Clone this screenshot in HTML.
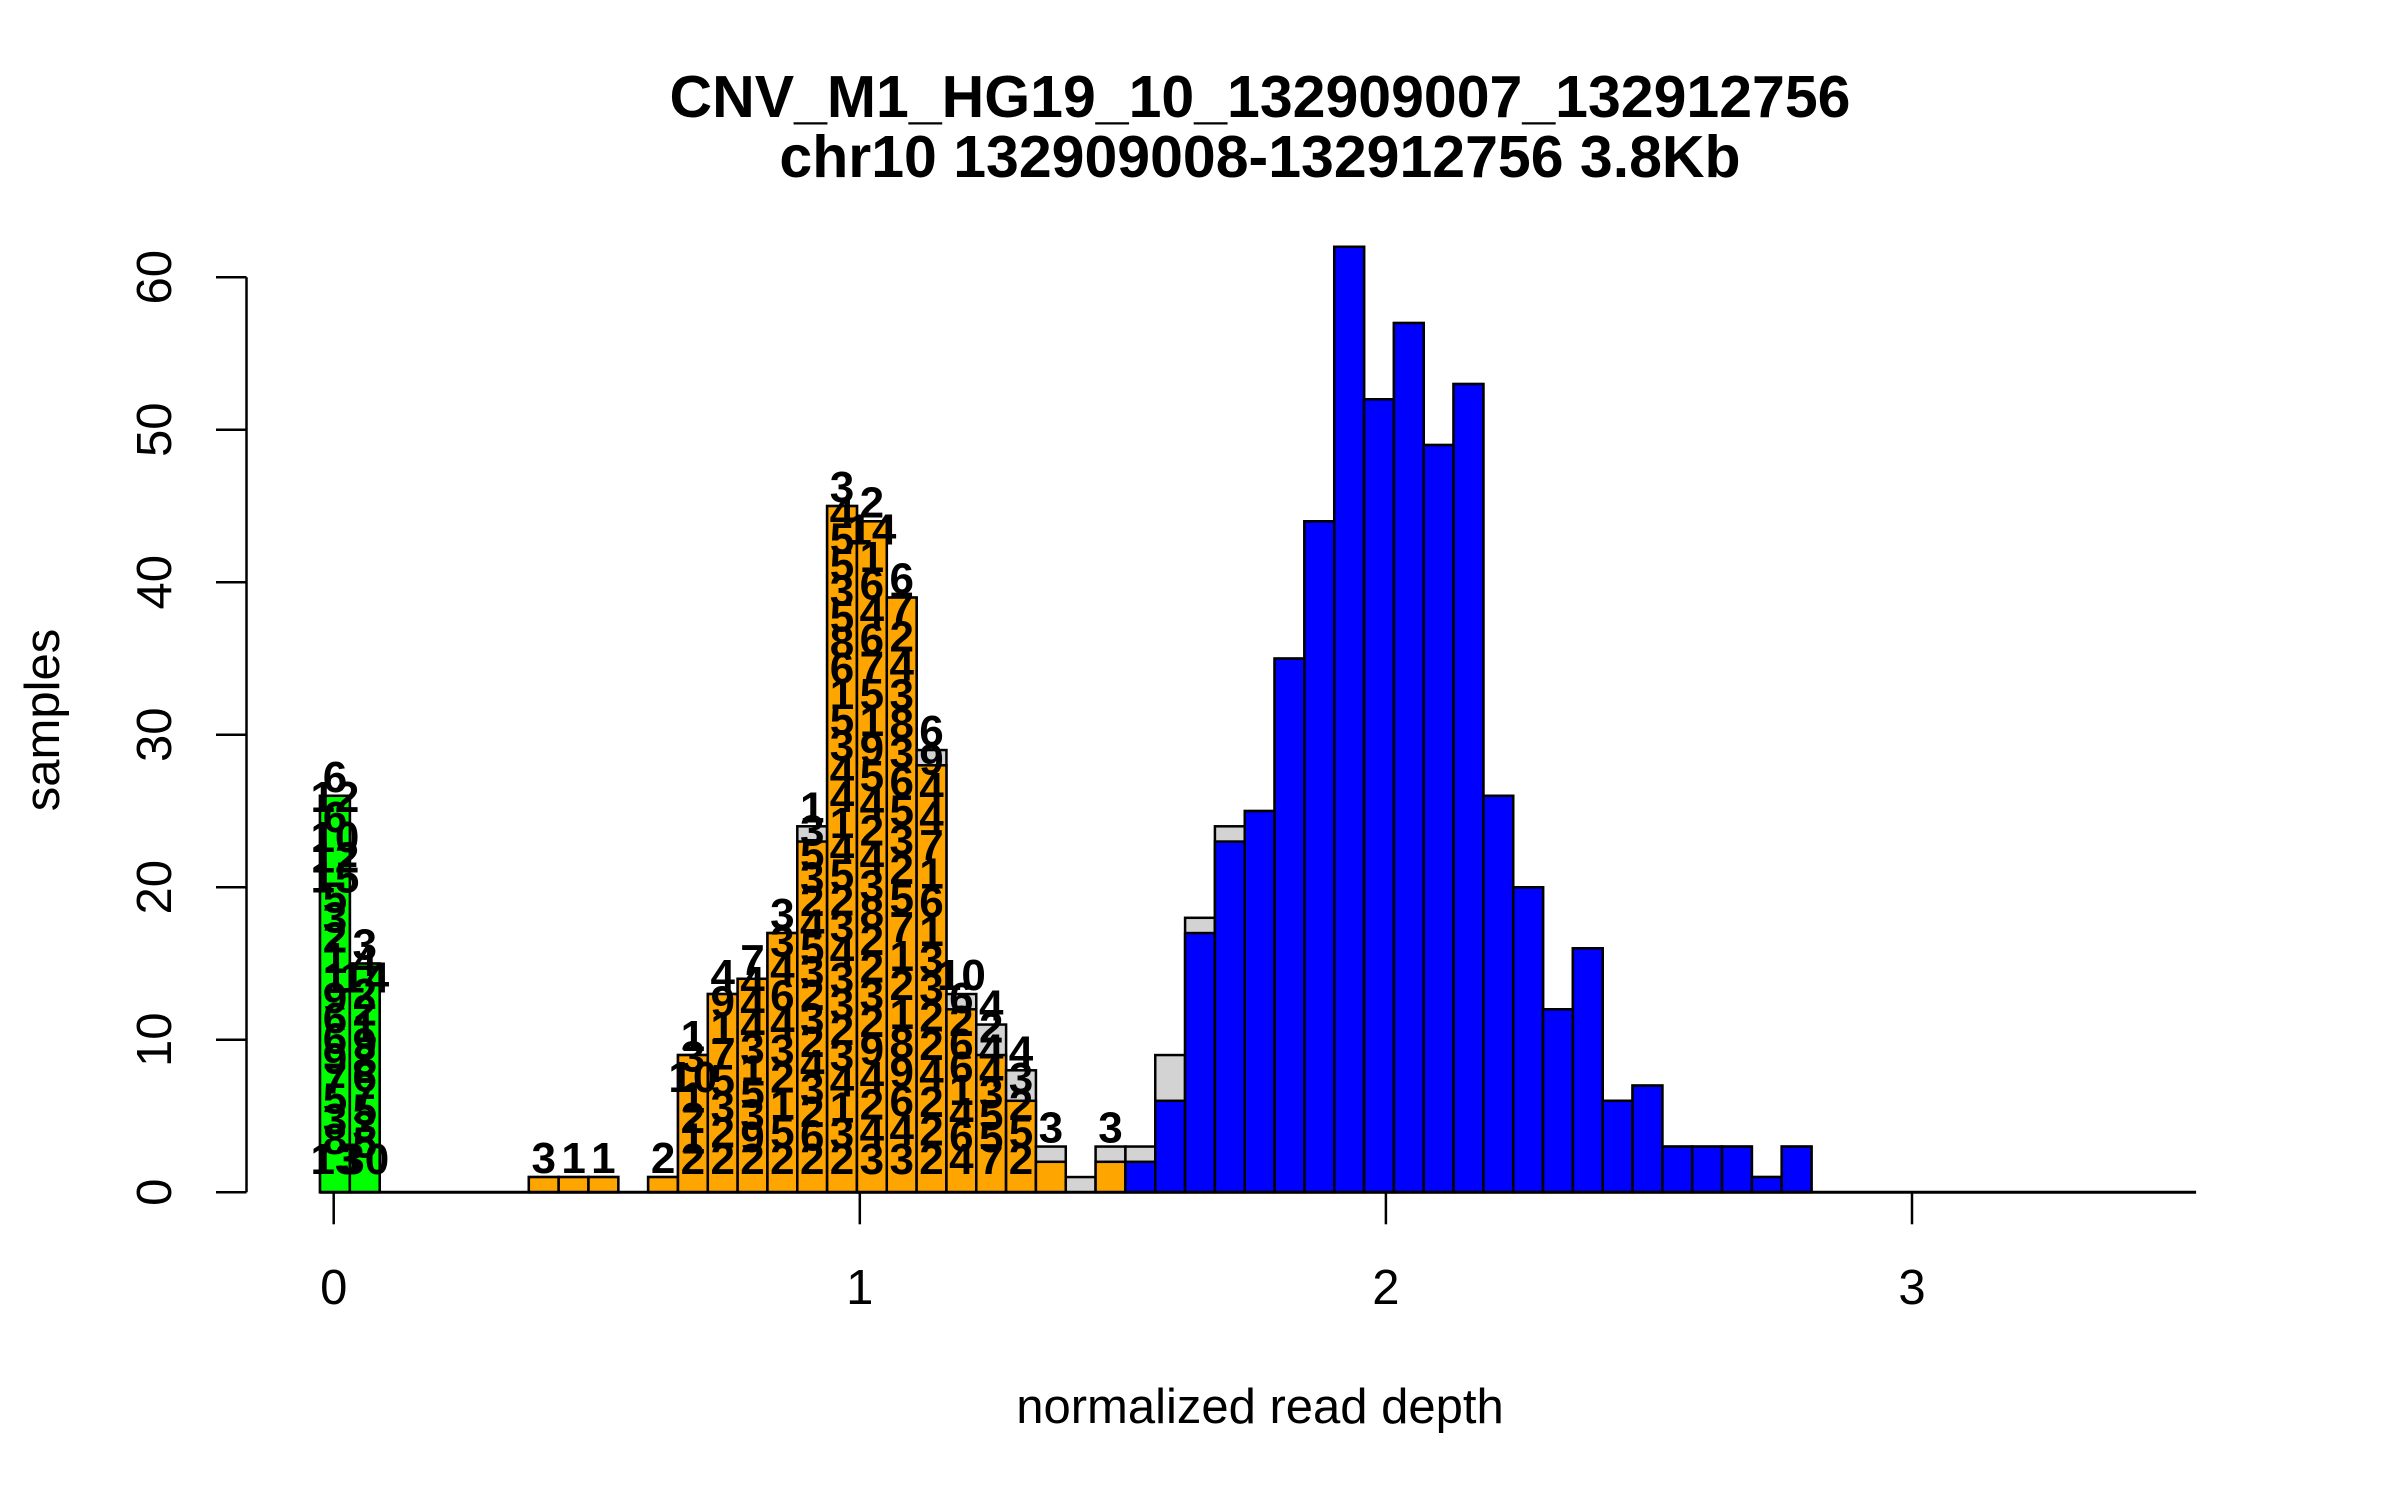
<!DOCTYPE html>
<html><head><meta charset="utf-8"><style>
html,body{margin:0;padding:0;background:#fff;}
svg{display:block;font-family:"Liberation Sans",sans-serif;}
</style></head><body>
<svg id="chart" width="2400" height="1500" viewBox="0 0 2400 1500">
<text x="1260" y="117" text-anchor="middle" font-size="59" font-weight="bold">CNV_M1_HG19_10_132909007_132912756</text>
<text x="1260" y="177" text-anchor="middle" font-size="59" font-weight="bold">chr10 132909008-132912756 3.8Kb</text>
<text transform="translate(59,720) rotate(-90)" text-anchor="middle" font-size="49">samples</text>
<text x="1260" y="1423" text-anchor="middle" font-size="49">normalized read depth</text>
<g id="bars"></g>
<g id="labels"></g>
<g id="axes"></g>
</svg>
<script>
const binStart = -0.026;
const binWidth = 0.0567;
// per-bin values (50 bins)
const totalCounts = [26,15,0,0,0,0,0,1,1,1,0,1,9,13,14,17,24,45,44,39,29,13,11,8,3,1,3,3,9,18,24,25,35,44,62,52,57,49,53,26,20,12,16,6,7,3,3,3,1,3];
const greenCounts = [26,15,0,0,0,0,0,0,0,0,0,0,0,0,0,0,0,0,0,0,0,0,0,0,0,0,0,0,0,0,0,0,0,0,0,0,0,0,0,0,0,0,0,0,0,0,0,0,0,0];
const orangeCounts = [0,0,0,0,0,0,0,1,1,1,0,1,9,13,14,17,23,45,44,39,28,12,9,6,2,0,2,0,0,0,0,0,0,0,0,0,0,0,0,0,0,0,0,0,0,0,0,0,0,0];
const blueCounts = [0,0,0,0,0,0,0,0,0,0,0,0,0,0,0,0,0,0,0,0,0,0,0,0,0,0,0,2,6,17,23,25,35,44,62,52,57,49,53,26,20,12,16,6,7,3,3,3,1,3];
const binLabels = ["6 12 6 10 12 15 5 3 2 1 1 9 6 6 9 7 5 3 8 13","3 4 14 2 2 1 9 8 6 7 5 3 5 30","","","","","","3","1","1","","2","1 3 10 1 2 1 2","4 9 1 7 5 3 2 2","7 4 4 4 3 1 5 3 9 2","3 3 4 6 4 3 2 1 5 2","1 3 5 3 2 4 5 3 2 3 2 4 3 2 6 2","3 4 5 5 3 5 8 6 1 5 3 4 4 1 4 5 2 3 4 3 3 2 3 4 1 3 2","2 14 1 6 4 6 7 5 1 9 5 4 2 4 3 8 2 2 3 2 9 4 2 4 3","6 7 2 4 3 8 3 6 5 3 2 5 7 1 2 1 8 9 6 4 3","6 9 4 4 7 1 6 1 3 3 2 2 4 2 2 2","10 6 2 6 6 1 4 6 4","4 2 4 4 3 5 5 7","4 3 2 5 2","3","","3","","","","","","","","","","","","","","","","","","","","","","","",""];
const yTicks = [0,10,20,30,40,50,60];
const xTicks = [0,1,2,3];
const NS="http://www.w3.org/2000/svg";
function X(v){return 333.7+v*526.1;}
function Y(c){return 1192.3-c*15.25;}
function mk(tag,attrs,parent){const e=document.createElementNS(NS,tag);for(const k in attrs)e.setAttribute(k,attrs[k]);parent.appendChild(e);return e;}
const gb=document.getElementById('bars'), gl=document.getElementById('labels'), ga=document.getElementById('axes');
for(let i=0;i<totalCounts.length;i++){
  const x0=X(binStart+i*binWidth), x1=X(binStart+(i+1)*binWidth), w=x1-x0;
  if(totalCounts[i]>0){
    const r=mk('rect',{x:x0,y:Y(totalCounts[i]),width:w,height:Y(0)-Y(totalCounts[i]),fill:'#d3d3d3',stroke:'#000','stroke-width':2.5},gb);
    
    
  }
  const parts=[[greenCounts[i],'#00ff00','green'],[orangeCounts[i],'#ffa500','orange'],[blueCounts[i],'#0000ff','blue']];
  for(const [c,col,nm] of parts){
    if(c>0){
      const r=mk('rect',{x:x0,y:Y(c),width:w,height:Y(0)-Y(c),fill:col,stroke:'#000','stroke-width':2.5},gb);
      
      
    }
  }
  const labs=binLabels[i]?binLabels[i].split(' '):[];
  if(labs.length){
    const top=Y(totalCounts[i])-4, bottom=Y(1.2);
    const step=labs.length>1?(bottom-top)/(labs.length-1):0;
    labs.forEach((s,j)=>{
      const t=mk('text',{x:(x0+x1)/2,y:top+j*step,'text-anchor':'middle','font-size':44,'font-weight':'bold',fill:'#000'},gl);
      t.textContent=s;
      
      
    });
  }
}
const bl=mk('line',{x1:X(binStart),x2:X(3.54),y1:Y(0),y2:Y(0),stroke:'#000','stroke-width':3},ga);


const ya=mk('line',{x1:246.5,x2:246.5,y1:Y(60),y2:Y(0),stroke:'#000','stroke-width':2.5},ga);


yTicks.forEach(v=>{
  const t=mk('line',{x1:216,x2:246.5,y1:Y(v),y2:Y(v),stroke:'#000','stroke-width':2.5},ga);
  
  
  const l=mk('text',{transform:`translate(171,${Y(v)}) rotate(-90)`,'text-anchor':'middle','font-size':49},ga);
  l.textContent=v;
  
  
});
xTicks.forEach(v=>{
  const t=mk('line',{x1:X(v),x2:X(v),y1:Y(0),y2:Y(0)+32,stroke:'#000','stroke-width':2.5},ga);
  
  
  const l=mk('text',{x:X(v),y:1304,'text-anchor':'middle','font-size':49},ga);
  l.textContent=v;
  
  
});
</script>
</body></html>
